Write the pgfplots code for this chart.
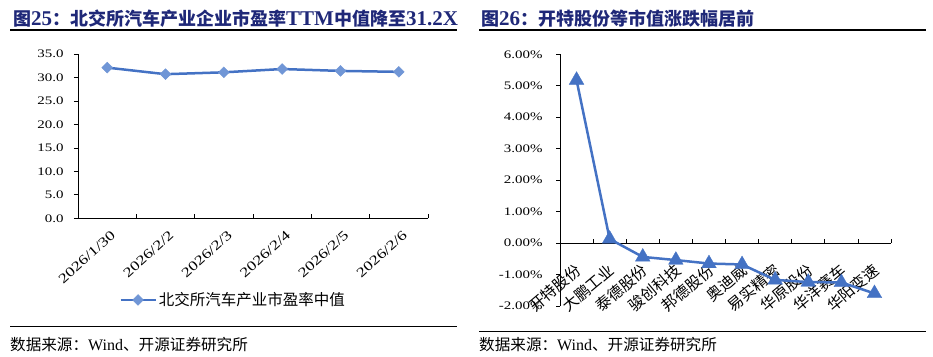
\documentclass[border=0pt]{standalone}
\usepackage{fontspec}
\usepackage{pgfplots}
\pgfplotsset{compat=1.18}
\setmainfont{Liberation Serif}
\newfontfamily\tickfont{Liberation Serif}[FakeStretch=1.3]
\newfontfamily\cjk{Noto Sans CJK SC}
\definecolor{navy}{RGB}{31,40,120}
\definecolor{lineblue}{RGB}{68,114,196}
\definecolor{markblue}{RGB}{112,150,214}
\newcommand\tca[1]{{\cjk\fontsize{18bp}{20bp}\selectfont\bfseries #1}}
\newcommand\tcb[1]{{\cjk\fontsize{18bp}{20bp}\selectfont\bfseries #1}}
\newcommand\tl[1]{{\fontsize{21bp}{21bp}\selectfont\bfseries #1}}
\newcommand\src[1]{{\cjk\fontsize{15.6bp}{18bp}\selectfont #1}}
\begin{document}
\begin{tikzpicture}
\useasboundingbox (0,0) rectangle (933bp,-357bp);
% titles
\node[anchor=base west, inner sep=0, text=navy] at (13bp,-25bp)
  {\tca{图}\tl{25}\tca{：北交所汽车产业企业市盈率}\tl{TTM}\tca{中值降至}\tl{31.2X}};
\node[anchor=base west, inner sep=0, text=navy] at (481bp,-25bp)
  {\tcb{图}\tl{26}\tcb{：开特股份等市值涨跌幅居前}};
\draw[line width=1.2bp] (10bp,-30bp) -- (457bp,-30bp);
\draw[line width=1.2bp] (479bp,-30bp) -- (926bp,-30bp);
\draw[line width=1bp] (10bp,-326bp) -- (457bp,-326bp);
\draw[line width=1bp] (479bp,-331bp) -- (926bp,-331bp);
\node[anchor=base west, inner sep=0] at (10bp,-350bp)
  {\src{数据来源：}{\fontsize{16bp}{16bp}\selectfont Wind}\src{、开源证券研究所}};
\node[anchor=base west, inner sep=0] at (479bp,-350bp)
  {\src{数据来源：}{\fontsize{16bp}{16bp}\selectfont Wind}\src{、开源证券研究所}};

% left chart
\begin{axis}[
  at={(78bp,-218.3bp)}, anchor=south west,
  scale only axis, width=350bp, height=164.3bp,
  xmin=0, xmax=6, ymin=0, ymax=35,
  enlargelimits=false,
  axis x line*=bottom, axis y line*=left,
  axis line style={-, line width=0.7bp},
  tick style={black, line width=0.7bp},
  major tick length=4bp,
  ytick={0,5,...,35},
  yticklabels={0.0,5.0,10.0,15.0,20.0,25.0,30.0,35.0},
  ytick align=outside, xtick align=inside,
  y tick label style={font=\tickfont\fontsize{11.5bp}{12bp}\selectfont, xshift=-7bp},
  xtick={0,...,6}, xticklabels={},
  extra x ticks={0.5,1.5,2.5,3.5,4.5,5.5},
  extra x tick labels={2026/1/30,2026/2/2,2026/2/3,2026/2/4,2026/2/5,2026/2/6},
  extra x tick style={major tick length=0pt,
    tick label style={rotate=42, anchor=north east, inner sep=0pt,
      font=\tickfont\fontsize{13.5bp}{13.5bp}\selectfont, xshift=-5.5bp, yshift=-10.6bp}},
  legend style={at={(0.443,-0.497)}, anchor=center, draw=none,
    font=\cjk\fontsize{15.5bp}{18bp}\selectfont},
  legend image code/.code={
    \draw[#1, mark repeat=2, mark phase=2] plot coordinates {(0bp,0bp) (17.5bp,0bp) (35bp,0bp)};},
]
\addplot[color=lineblue, line width=2.5bp, mark=square*, mark size=3.8bp,
  mark options={rotate=45, fill=markblue, draw=markblue, line width=0.5bp}]
  coordinates {(0.5,32.1) (1.5,30.7) (2.5,31.1) (3.5,31.8) (4.5,31.4) (5.5,31.2)};
\addlegendentry{北交所汽车产业市盈率中值}
\end{axis}

% right chart
\begin{axis}[
  at={(560bp,-306bp)}, anchor=south west,
  scale only axis, width=331bp, height=251.7bp,
  xmin=0, xmax=10, ymin=-2, ymax=6,
  enlargelimits=false,
  axis x line=middle, axis y line=left,
  hide obscured x ticks=false, hide obscured y ticks=false,
  axis line style={-, line width=0.7bp},
  tick style={black, line width=0.7bp},
  major tick length=4bp,
  ytick={-2,-1,...,6},
  yticklabels={-2.00\%,-1.00\%,0.00\%,1.00\%,2.00\%,3.00\%,4.00\%,5.00\%,6.00\%},
  ytick align=outside, xtick align=inside,
  y tick label style={font=\tickfont\fontsize{11.5bp}{12bp}\selectfont, xshift=-10bp},
  xtick={0,...,10}, xticklabels={},
  extra x ticks={0.5,1.5,2.5,3.5,4.5,5.5,6.5,7.5,8.5,9.5},
  extra x tick labels={开特股份,大鹏工业,泰德股份,骏创科技,邦德股份,奥迪威,易实精密,华原股份,华洋赛车,华阳变速},
  extra x tick style={major tick length=0pt,
    tick label style={rotate=40, anchor=north east, inner sep=0pt,
      font=\cjk\fontsize{15.5bp}{16bp}\selectfont, xshift=-14bp, yshift=-13bp}},
]
\addplot[color=lineblue, line width=2.5bp, mark=triangle*, mark size=8.5bp,
  mark options={fill=lineblue, draw=lineblue, line width=0.3bp}]
  coordinates {(0.5,5.18) (1.5,0.13) (2.5,-0.44) (3.5,-0.54) (4.5,-0.65)
               (5.5,-0.68) (6.5,-1.17) (7.5,-1.24) (8.5,-1.25) (9.5,-1.60)};
\end{axis}
\end{tikzpicture}
\end{document}
